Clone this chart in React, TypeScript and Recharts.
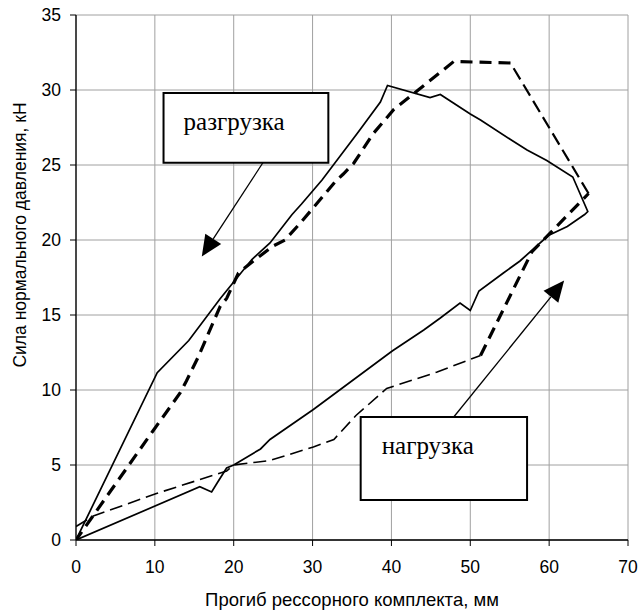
import React from 'react';
import { LineChart, Line, XAxis, YAxis, CartesianGrid, ReferenceArea, ReferenceLine } from 'recharts';

// Solid loop (loading then unloading), deflection mm / force kN
const solidX = [0, 15.7, 17.2, 17.9, 19.1, 20, 23.4, 24.6, 30.1, 40.1, 44.1, 46.2, 48.7, 50, 51.1, 54.2, 56.3, 59.9, 62.3, 64.5, 64.9, 63.0, 59.7, 57.2, 55.1, 51.3, 50, 46.2, 44.9, 39.5, 38.6, 35.8, 31.2, 28.6, 27.4, 24.6, 22.3, 18.3, 14.3, 10.3, 0];
const solidY = [0, 3.55, 3.2, 3.8, 4.8, 5, 6.07, 6.7, 8.7, 12.6, 14, 14.8, 15.8, 15.3, 16.6, 17.8, 18.6, 20.3, 20.9, 21.7, 21.9, 24.2, 25.3, 26, 26.7, 28, 28.4, 29.7, 29.5, 30.3, 29.2, 27.2, 24, 22.4, 21.7, 19.8, 18.7, 16.1, 13.3, 11.15, 0];

// Dashed curve, thin loading branch
const dashLoadX = [0, 2.2, 10.2, 19.1, 20, 24.6, 30.1, 32.7, 35.5, 39.4, 45.8, 51.3];
const dashLoadY = [0.9, 1.6, 3.1, 4.6, 5, 5.3, 6.2, 6.7, 8.3, 10.1, 11.2, 12.3];

// Dashed curve, thick loading end
const dashLoadEndX = [51.3, 57.8, 65];
const dashLoadEndY = [12.3, 19.2, 23.1];

// Dashed curve, medium descending segment
const dashTurnX = [65, 55.1];
const dashTurnY = [23.1, 31.8];

// Dashed curve, thick unloading branch
const dashUnloadX = [55.1, 47.9, 43.4, 40.3, 37.7, 35.2, 33.9, 32.9, 28.4, 26.5, 25, 22.5, 20.6, 19.1, 18.3, 15.5, 14, 13.2, 9.8, 0];
const dashUnloadY = [31.8, 31.9, 30, 28.7, 27.1, 25.1, 24.4, 23.9, 21.1, 20, 19.6, 18.6, 17.8, 16.1, 15.6, 12.2, 10.6, 9.8, 7.3, 0];

const xTicks = [0, 10, 20, 30, 40, 50, 60, 70];
const yTicks = [0, 5, 10, 15, 20, 25, 30, 35];

const xTitle = 'Прогиб рессорного комплекта, мм';
const yTitle = 'Сила нормального давления, кН';
const unloadLabel = 'разгрузка';
const loadLabel = 'нагрузка';

// annotation boxes and arrows (data coordinates)
const unloadBox = { x1: 11.1, x2: 32, y1: 25.15, y2: 29.8 };
const loadBox = { x1: 36.1, x2: 57.2, y1: 2.67, y2: 8.2 };
const unloadArrow = [{ x: 23.7, y: 25.15 }, { x: 15.95, y: 18.9 }];
const loadArrow = [{ x: 47.9, y: 8.2 }, { x: 61.9, y: 17.3 }];

const zip = (xs: number[], ys: number[]) => xs.map((x, i) => ({ x, y: ys[i] }));

const SANS = '"Liberation Sans", Arial, sans-serif';
const SERIF = '"Liberation Serif", "Times New Roman", serif';

const ArrowShape = (props: any) => {
  const { x1, y1, x2, y2 } = props;
  if ([x1, y1, x2, y2].some((v) => v == null || isNaN(v))) return null;
  const dx = x2 - x1;
  const dy = y2 - y1;
  const len = Math.sqrt(dx * dx + dy * dy);
  const ux = dx / len;
  const uy = dy / len;
  const hl = 21;
  const hw = 9.5;
  const bx = x2 - ux * hl;
  const by = y2 - uy * hl;
  const px = -uy;
  const py = ux;
  return (
    <g>
      <line x1={x1} y1={y1} x2={bx} y2={by} stroke="#000" strokeWidth={1.3} />
      <polygon
        points={`${x2},${y2} ${bx + px * hw},${by + py * hw} ${bx - px * hw},${by - py * hw}`}
        fill="#000"
      />
    </g>
  );
};

const boxLabel = (text: string, dx: number) => (props: any) => {
  const vb = props.viewBox || {};
  return (
    <text
      x={vb.x + dx}
      y={vb.y + 37}
      fontFamily={SERIF}
      fontSize={25}
      fill="#000"
    >
      {text}
    </text>
  );
};

const YTitle = () => {
  const cx = 20;
  const cy = 235;
  return (
    <text
      x={cx}
      y={cy}
      transform={`rotate(-90 ${cx} ${cy})`}
      textAnchor="middle"
      dominantBaseline="central"
      fontFamily={SANS}
      fontSize={17.5}
      fill="#000"
    >
      {yTitle}
    </text>
  );
};

export default function App() {
  const lineCommon = { dataKey: 'y', dot: false, activeDot: false, isAnimationActive: false, stroke: '#000', type: 'linear' as const };
  return (
    <div style={{ position: 'absolute', left: 0, top: 0, width: 640, height: 612, background: '#fff' }}>
      <LineChart width={640} height={612} margin={{ top: 15, right: 12, left: 0, bottom: 0 }}>
        <CartesianGrid stroke="#a0a0a0" strokeWidth={1} horizontalValues={yTicks} verticalValues={xTicks} />
        <XAxis
          type="number"
          dataKey="x"
          domain={[0, 70]}
          ticks={xTicks}
          allowDataOverflow
          height={72}
          stroke="#000"
          tickSize={6}
          tickMargin={15}
          tick={{ fill: '#000', fontFamily: SANS, fontSize: 17.5 }}
          axisLine={{ stroke: '#000', strokeWidth: 1.3 }}
          tickLine={{ stroke: '#000' }}
          label={{ value: xTitle, position: 'insideBottom', offset: 6, fill: '#000', fontFamily: SANS, fontSize: 18.5 }}
        />
        <YAxis
          type="number"
          dataKey="y"
          domain={[0, 35]}
          ticks={yTicks}
          allowDataOverflow
          width={76}
          stroke="#000"
          tickSize={6}
          tickMargin={9}
          tick={{ fill: '#000', fontFamily: SANS, fontSize: 17.5 }}
          axisLine={{ stroke: '#000', strokeWidth: 1.3 }}
          tickLine={{ stroke: '#000' }}
          label={<YTitle />}
        />
        <Line {...lineCommon} data={zip(solidX, solidY)} strokeWidth={1.7} />
        <Line {...lineCommon} data={zip(dashLoadX, dashLoadY)} strokeWidth={1.6} strokeDasharray="13 6" />
        <Line {...lineCommon} data={zip(dashLoadEndX, dashLoadEndY)} strokeWidth={3.2} strokeDasharray="12 7" />
        <Line {...lineCommon} data={zip(dashTurnX, dashTurnY)} strokeWidth={2.2} strokeDasharray="13 6" />
        <Line {...lineCommon} data={zip(dashUnloadX, dashUnloadY)} strokeWidth={3.2} strokeDasharray="12 7" />
        <ReferenceLine segment={unloadArrow} shape={ArrowShape} ifOverflow="visible" />
        <ReferenceLine segment={loadArrow} shape={ArrowShape} ifOverflow="visible" />
        <ReferenceArea
          {...unloadBox}
          fill="#fff"
          fillOpacity={1}
          stroke="#000"
          strokeWidth={2}
          ifOverflow="visible"
          label={boxLabel(unloadLabel, 20)}
        />
        <ReferenceArea
          {...loadBox}
          fill="#fff"
          fillOpacity={1}
          stroke="#000"
          strokeWidth={2}
          ifOverflow="visible"
          label={boxLabel(loadLabel, 21)}
        />
      </LineChart>
    </div>
  );
}
